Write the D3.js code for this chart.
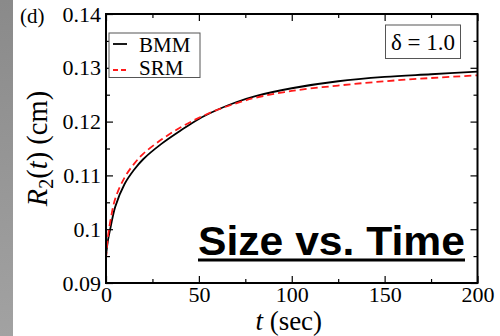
<!DOCTYPE html>
<html>
<head>
<meta charset="utf-8">
<script src="https://cdn.jsdelivr.net/npm/d3@7"></script>
<style>
  body { margin: 0; background: #fff; }
  svg { display: block; }
</style>
</head>
<body>
<div id="chart"></div>
<script>
// time (sec) and R2(t) (cm)
const times = [0, 1, 2.5, 5, 10, 15, 20, 30, 40, 50, 60, 70, 80, 100, 125, 150, 175, 200];
const bmm = [0.0950, 0.0978, 0.1004, 0.1042, 0.1084, 0.1110, 0.1130, 0.1159, 0.1183, 0.1205,
             0.1222, 0.1236, 0.1247, 0.1262, 0.1275, 0.1283, 0.1288, 0.1293];
const srm = [0.0945, 0.0985, 0.1018, 0.1057, 0.1096, 0.1121, 0.1140, 0.1167, 0.1189, 0.1207,
             0.1222, 0.1234, 0.1244, 0.1257, 0.1267, 0.1275, 0.1281, 0.1286];

const xMajor = [0, 50, 100, 150, 200];
const xMinor = [25, 75, 125, 175];
const yMajor = [0.09, 0.1, 0.11, 0.12, 0.13, 0.14];
const yMinor = [0.095, 0.105, 0.115, 0.125, 0.135];
const yLabels = ['0.09', '0.1', '0.11', '0.12', '0.13', '0.14'];

const width = 500;
const height = 336;
const plot = { left: 106, right: 477.5, top: 14, bottom: 283 };
const serif = "'Liberation Serif', 'Times New Roman', serif";

const svg = d3.select('#chart').append('svg')
  .attr('width', width)
  .attr('height', height)
  .attr('font-family', serif);

// grey strip on the left edge
const grad = svg.append('defs').append('linearGradient')
  .attr('id', 'strip').attr('x1', 0).attr('y1', 0).attr('x2', 0).attr('y2', 1);
grad.append('stop').attr('offset', 0).attr('stop-color', '#8a8a8a');
grad.append('stop').attr('offset', 1).attr('stop-color', '#a2a2a2');
svg.append('rect').attr('x', 0).attr('y', 0).attr('width', 13).attr('height', height)
  .attr('fill', 'url(#strip)');

const x = d3.scaleLinear().domain([0, 200]).range([plot.left, plot.right]);
const y = d3.scaleLinear().domain([0.09, 0.14]).range([plot.bottom, plot.top]);

svg.append('clipPath').attr('id', 'clip').append('rect')
  .attr('x', plot.left).attr('y', plot.top)
  .attr('width', plot.right - plot.left).attr('height', plot.bottom - plot.top);

function styleAxis(g) {
  // d3 puts sans-serif / 10px on the group, drop it so the serif face is inherited
  g.attr('font-family', null).attr('font-size', null);
  g.select('.domain').remove();
  g.selectAll('line').attr('stroke', '#000').attr('stroke-width', 1.2);
  g.selectAll('text')
    .attr('font-family', serif)
    .attr('font-size', 22)
    .attr('fill', '#000');
}

// bottom
svg.append('g').attr('transform', `translate(0,${plot.bottom})`)
  .call(d3.axisBottom(x).tickValues(xMajor).tickSize(-7).tickSizeOuter(0).tickPadding(3.5))
  .call(styleAxis);
svg.append('g').attr('transform', `translate(0,${plot.bottom})`)
  .call(d3.axisBottom(x).tickValues(xMinor).tickSize(-4).tickSizeOuter(0).tickFormat(''))
  .call(styleAxis);
// top
svg.append('g').attr('transform', `translate(0,${plot.top})`)
  .call(d3.axisTop(x).tickValues(xMajor).tickSize(-7).tickSizeOuter(0).tickFormat(''))
  .call(styleAxis);
svg.append('g').attr('transform', `translate(0,${plot.top})`)
  .call(d3.axisTop(x).tickValues(xMinor).tickSize(-4).tickSizeOuter(0).tickFormat(''))
  .call(styleAxis);
// left
svg.append('g').attr('transform', `translate(${plot.left},0)`)
  .call(d3.axisLeft(y).tickValues(yMajor).tickSize(-7).tickSizeOuter(0).tickPadding(5)
    .tickFormat((d, i) => yLabels[i]))
  .call(styleAxis);
svg.append('g').attr('transform', `translate(${plot.left},0)`)
  .call(d3.axisLeft(y).tickValues(yMinor).tickSize(-4).tickSizeOuter(0).tickFormat(''))
  .call(styleAxis);
// right
svg.append('g').attr('transform', `translate(${plot.right},0)`)
  .call(d3.axisRight(y).tickValues(yMajor).tickSize(-7).tickSizeOuter(0).tickFormat(''))
  .call(styleAxis);
svg.append('g').attr('transform', `translate(${plot.right},0)`)
  .call(d3.axisRight(y).tickValues(yMinor).tickSize(-4).tickSizeOuter(0).tickFormat(''))
  .call(styleAxis);

// curves
const line = d3.line()
  .x((d, i) => x(times[i]))
  .y(d => y(d))
  .curve(d3.curveCatmullRom.alpha(0.5));

svg.append('path').datum(bmm)
  .attr('clip-path', 'url(#clip)')
  .attr('d', line)
  .attr('fill', 'none')
  .attr('stroke', '#000')
  .attr('stroke-width', 1.8);

svg.append('path').datum(srm)
  .attr('clip-path', 'url(#clip)')
  .attr('d', line)
  .attr('fill', 'none')
  .attr('stroke', '#ff1a1a')
  .attr('stroke-width', 1.8)
  .attr('stroke-dasharray', '7,4');

// frame
svg.append('rect')
  .attr('x', plot.left).attr('y', plot.top)
  .attr('width', plot.right - plot.left).attr('height', plot.bottom - plot.top)
  .attr('fill', 'none').attr('stroke', '#000').attr('stroke-width', 2);

// legend
svg.append('rect')
  .attr('x', 109).attr('y', 33).attr('width', 91).attr('height', 44.5)
  .attr('fill', '#fff').attr('stroke', '#555').attr('stroke-width', 1);
svg.append('line').attr('x1', 113).attr('x2', 127).attr('y1', 44).attr('y2', 44)
  .attr('stroke', '#000').attr('stroke-width', 1.8);
svg.append('line').attr('x1', 113).attr('x2', 129).attr('y1', 70).attr('y2', 70)
  .attr('stroke', '#ff1a1a').attr('stroke-width', 1.8).attr('stroke-dasharray', '5,3');
svg.append('text').text('BMM').attr('x', 139).attr('y', 51.5).attr('font-size', 21);
svg.append('text').text('SRM').attr('x', 139).attr('y', 74.5).attr('font-size', 21);

// delta box
svg.append('rect')
  .attr('x', 385.5).attr('y', 25).attr('width', 75).attr('height', 33.5)
  .attr('fill', '#fff').attr('stroke', '#555').attr('stroke-width', 1);
svg.append('text').text('\u03B4 = 1.0')
  .attr('x', 423).attr('y', 50).attr('text-anchor', 'middle').attr('font-size', 23);

// panel label
svg.append('text').text('(d)').attr('x', 20).attr('y', 23).attr('font-size', 21);

// axis titles
const xt = svg.append('text')
  .attr('x', (plot.left + plot.right) / 2 - 3).attr('y', 330)
  .attr('text-anchor', 'middle').attr('font-size', 27);
xt.append('tspan').attr('font-style', 'italic').text('t');
xt.append('tspan').text(' (sec)');

const yt = svg.append('text')
  .attr('transform', `translate(47,${(plot.top + plot.bottom) / 2}) rotate(-90)`)
  .attr('text-anchor', 'middle').attr('font-size', 28.5);
yt.append('tspan').attr('font-style', 'italic').text('R');
yt.append('tspan').attr('font-size', 20).attr('dy', 6).text('2');
yt.append('tspan').attr('dy', -6).text('(');
yt.append('tspan').attr('font-style', 'italic').text('t');
yt.append('tspan').text(') (cm)');

// overlay caption
const capX = 198;
const capW = 267;
svg.append('text').text('Size vs. Time')
  .attr('x', capX).attr('y', 255)
  .attr('textLength', capW)
  .attr('lengthAdjust', 'spacingAndGlyphs')
  .attr('font-size', 41)
  .attr('font-weight', 'bold')
  .attr('font-family', "'Liberation Sans', Arial, sans-serif");
svg.append('rect')
  .attr('x', capX).attr('y', 258.5).attr('width', capW).attr('height', 3)
  .attr('fill', '#000');
</script>
</body>
</html>
